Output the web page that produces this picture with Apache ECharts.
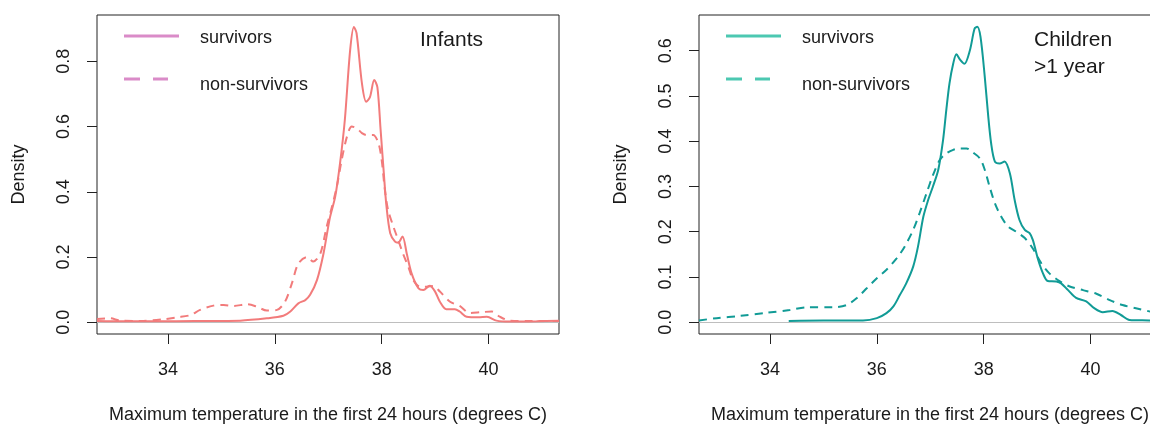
<!DOCTYPE html>
<html>
<head>
<meta charset="utf-8">
<script src="https://cdn.jsdelivr.net/npm/echarts@6/dist/echarts.min.js"></script>
<style>
  html, body { margin: 0; padding: 0; background: #fff; }
  #chart { width: 1150px; height: 424px; }
</style>
</head>
<body>
<div id="chart"></div>
<script>
// ---------- data ----------
const xTicks = [34, 36, 38, 40];
const yTicksInfants = [0, 0.2, 0.4, 0.6, 0.8];
const yTicksChildren = [0, 0.1, 0.2, 0.3, 0.4, 0.5, 0.6];
const xTitle = 'Maximum temperature in the first 24 hours (degrees C)';
const yTitle = 'Density';
const seriesNames = ['survivors', 'non-survivors'];

// Infants – survivors
const tempInfSurv = [32.67, 33.2, 33.8, 34.5, 35.35, 35.85, 36.16, 36.29, 36.44, 36.57, 36.66, 36.79, 36.91, 37.03, 37.13, 37.22, 37.31, 37.41, 37.48, 37.53, 37.63, 37.71, 37.78, 37.86, 37.92, 37.98, 38.04, 38.09, 38.16, 38.25, 38.31, 38.39, 38.47, 38.56, 38.69, 38.78, 38.90, 39.0, 39.09, 39.21, 39.37, 39.46, 39.59, 39.81, 39.97, 40.15, 40.40, 40.9, 41.32];
const densInfSurv = [0.004, 0.003, 0.003, 0.004, 0.005, 0.012, 0.02, 0.033, 0.058, 0.068, 0.084, 0.13, 0.21, 0.32, 0.385, 0.487, 0.62, 0.835, 0.905, 0.886, 0.733, 0.676, 0.69, 0.743, 0.72, 0.59, 0.457, 0.355, 0.273, 0.247, 0.244, 0.263, 0.21, 0.15, 0.104, 0.099, 0.112, 0.094, 0.063, 0.04, 0.04, 0.033, 0.017, 0.015, 0.017, 0.005, 0.002, 0.003, 0.005];

// Infants – non-survivors
const tempInfNon = [32.67, 32.92, 33.1, 33.48, 33.92, 34.17, 34.42, 34.6, 34.85, 35.04, 35.23, 35.48, 35.66, 35.85, 36.04, 36.19, 36.32, 36.44, 36.6, 36.72, 36.85, 36.97, 37.07, 37.16, 37.25, 37.35, 37.44, 37.53, 37.63, 37.72, 37.84, 37.94, 38.0, 38.06, 38.12, 38.22, 38.31, 38.40, 38.50, 38.59, 38.72, 38.84, 38.97, 39.09, 39.28, 39.46, 39.65, 39.87, 40.06, 40.21, 40.40, 40.77, 41.32];
const densInfNon = [0.01, 0.012, 0.005, 0.004, 0.009, 0.015, 0.022, 0.038, 0.051, 0.053, 0.05, 0.055, 0.048, 0.036, 0.038, 0.063, 0.12, 0.18, 0.2, 0.186, 0.21, 0.293, 0.355, 0.416, 0.497, 0.569, 0.60, 0.595, 0.58, 0.574, 0.574, 0.549, 0.497, 0.406, 0.344, 0.293, 0.252, 0.21, 0.17, 0.13, 0.109, 0.109, 0.111, 0.094, 0.063, 0.05, 0.028, 0.031, 0.033, 0.017, 0.005, 0.004, 0.004];

// Children >1 year – survivors
const tempChiSurv = [34.35, 35.0, 35.74, 36.0, 36.18, 36.31, 36.43, 36.55, 36.68, 36.77, 36.87, 36.96, 37.05, 37.15, 37.24, 37.30, 37.36, 37.43, 37.49, 37.56, 37.64, 37.74, 37.83, 37.88, 37.94, 38.02, 38.08, 38.14, 38.21, 38.30, 38.39, 38.49, 38.58, 38.67, 38.77, 38.86, 38.92, 39.02, 39.11, 39.20, 39.36, 39.45, 39.58, 39.73, 39.92, 40.07, 40.23, 40.41, 40.57, 40.73, 41.10, 41.32];
const densChiSurv = [0.003, 0.004, 0.004, 0.009, 0.02, 0.035, 0.06, 0.086, 0.123, 0.167, 0.233, 0.27, 0.30, 0.337, 0.403, 0.469, 0.528, 0.572, 0.592, 0.58, 0.571, 0.60, 0.649, 0.653, 0.631, 0.543, 0.462, 0.395, 0.355, 0.351, 0.355, 0.329, 0.27, 0.226, 0.204, 0.197, 0.182, 0.138, 0.108, 0.091, 0.09, 0.086, 0.071, 0.054, 0.046, 0.031, 0.022, 0.025, 0.016, 0.005, 0.004, 0.003];

// Children >1 year – non-survivors
const tempChiNon = [32.67, 33.0, 33.44, 33.94, 34.37, 34.69, 35.18, 35.43, 35.62, 35.81, 36.0, 36.18, 36.37, 36.52, 36.68, 36.80, 36.93, 37.05, 37.18, 37.30, 37.43, 37.55, 37.68, 37.80, 37.93, 38.02, 38.11, 38.21, 38.33, 38.46, 38.61, 38.77, 38.92, 39.08, 39.23, 39.42, 39.61, 39.86, 40.11, 40.36, 40.60, 40.85, 41.10, 41.32];
const densChiNon = [0.004, 0.009, 0.014, 0.021, 0.027, 0.033, 0.033, 0.038, 0.053, 0.075, 0.097, 0.116, 0.141, 0.167, 0.204, 0.241, 0.285, 0.325, 0.359, 0.373, 0.381, 0.384, 0.384, 0.375, 0.362, 0.337, 0.30, 0.263, 0.233, 0.211, 0.20, 0.186, 0.163, 0.13, 0.108, 0.091, 0.079, 0.071, 0.063, 0.049, 0.038, 0.031, 0.024, 0.018];

// ---------- chart ----------
const FONT = "'Liberation Sans', Arial, sans-serif";
const TXT = '#1a1a1a';
const zip = (xs, ys) => xs.map((x, i) => [x, ys[i]]);

const panels = [
  { left: 97, ymin: -0.036, ymax: 0.942, yTicks: yTicksInfants, lineColor: '#F27B7B', legendColor: '#DA8BC8',
    label: ['Infants'], surv: zip(tempInfSurv, densInfSurv), non: zip(tempInfNon, densInfNon) },
  { left: 699, ymin: -0.026, ymax: 0.679, yTicks: yTicksChildren, lineColor: '#119B96', legendColor: '#4CC8B1',
    label: ['Children', '>1 year'], surv: zip(tempChiSurv, densChiSurv), non: zip(tempChiNon, densChiNon) }
];

const grid = [], xAxis = [], yAxis = [], series = [], graphic = [];
panels.forEach((p, i) => {
  grid.push({ left: p.left, top: 15, width: 462, height: 319, show: true,
              containLabel: false, outerBoundsMode: 'none',
              borderColor: '#222', borderWidth: 1, backgroundColor: 'transparent' });
  xAxis.push({
    type: 'value', gridIndex: i, min: 32.67, max: 41.32,
    name: xTitle, nameLocation: 'middle', nameGap: 72,
    nameTextStyle: { fontFamily: FONT, fontSize: 18, color: TXT },
    axisLine: { show: false, onZero: false },
    axisTick: { show: true, inside: false, length: 10, customValues: xTicks, lineStyle: { color: '#222', width: 1 } },
    axisLabel: { customValues: xTicks, margin: 27, fontFamily: FONT, fontSize: 18, color: TXT },
    splitLine: { show: false }
  });
  yAxis.push({
    type: 'value', gridIndex: i, min: p.ymin, max: p.ymax,
    name: yTitle, nameLocation: 'middle', nameGap: 69, nameRotate: 90,
    nameTextStyle: { fontFamily: FONT, fontSize: 18, color: TXT },
    axisLine: { show: false },
    axisTick: { show: true, inside: false, length: 10, customValues: p.yTicks, lineStyle: { color: '#222', width: 1 } },
    axisLabel: { customValues: p.yTicks, rotate: 90, margin: 24, fontFamily: FONT, fontSize: 18, color: TXT,
                 formatter: v => v.toFixed(1) },
    splitLine: { show: false }
  });
  series.push({
    name: seriesNames[0], type: 'line', xAxisIndex: i, yAxisIndex: i, data: p.surv,
    showSymbol: false, smooth: 0.3, lineStyle: { color: p.lineColor, width: 2 }, itemStyle: { color: p.lineColor },
    z: 3,
    markLine: { silent: true, symbol: ['none', 'none'], label: { show: false },
                lineStyle: { color: '#BEBEBE', type: 'solid', width: 1 }, data: [{ yAxis: 0 }], z: 1 }
  });
  series.push({
    name: seriesNames[1], type: 'line', xAxisIndex: i, yAxisIndex: i, data: p.non,
    showSymbol: false, smooth: 0.3, lineStyle: { color: p.lineColor, width: 2, type: [8, 6] }, itemStyle: { color: p.lineColor },
    z: 3
  });
  // legend drawn like R's legend()
  const lx = p.left + 27;
  graphic.push({ type: 'line', shape: { x1: lx, y1: 36, x2: lx + 55, y2: 36 },
                 style: { stroke: p.legendColor, lineWidth: 3 } });
  graphic.push({ type: 'line', shape: { x1: lx, y1: 79, x2: lx + 44, y2: 79 },
                 style: { stroke: p.legendColor, lineWidth: 3, lineDash: [16, 13] } });
  graphic.push({ type: 'text', x: p.left + 103, y: 38.5,
                 style: { text: seriesNames[0], font: '18px ' + FONT, fill: TXT, align: 'left', verticalAlign: 'middle' } });
  graphic.push({ type: 'text', x: p.left + 103, y: 85,
                 style: { text: seriesNames[1], font: '18px ' + FONT, fill: TXT, align: 'left', verticalAlign: 'middle' } });
  p.label.forEach((t, k) => {
    graphic.push({ type: 'text', x: p.left + (i === 0 ? 323 : 335), y: 40 + k * 27.5,
                   style: { text: t, font: '21px ' + FONT, fill: TXT, align: 'left', verticalAlign: 'middle' } });
  });
});

const chart = echarts.init(document.getElementById('chart'), null, { renderer: 'canvas' });
chart.setOption({
  animation: false,
  backgroundColor: '#fff',
  grid, xAxis, yAxis, series, graphic
});
</script>
</body>
</html>
